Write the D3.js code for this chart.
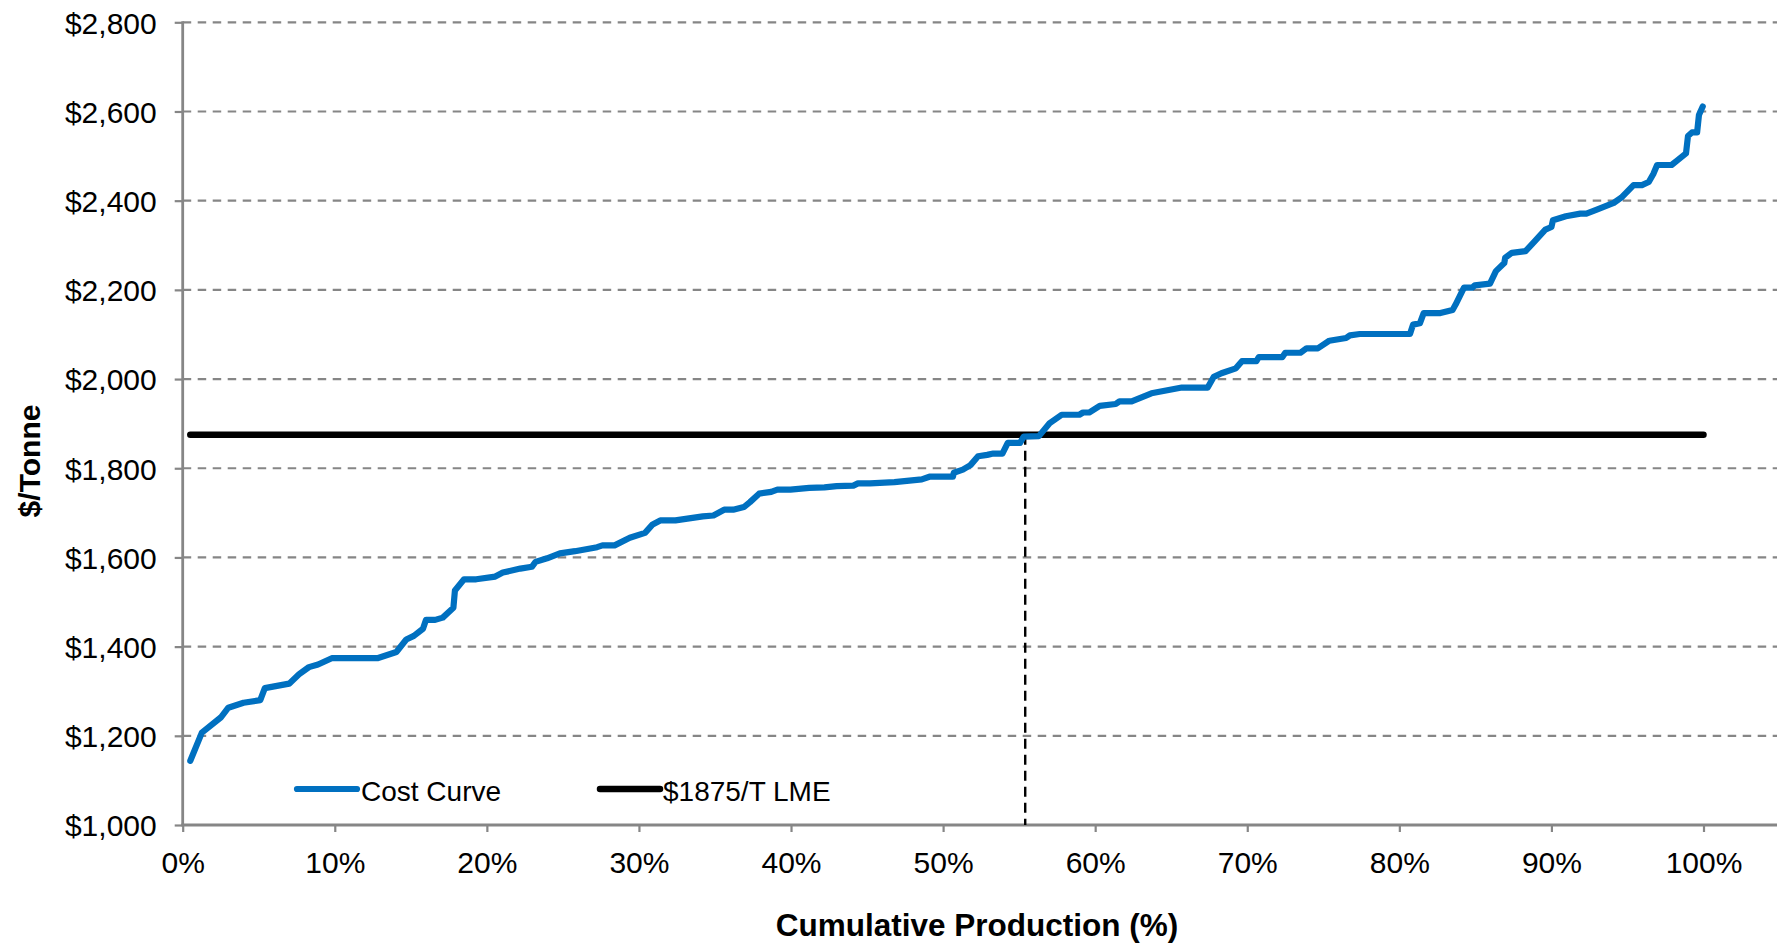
<!DOCTYPE html>
<html>
<head>
<meta charset="utf-8">
<script src="https://cdnjs.cloudflare.com/ajax/libs/d3/7.8.5/d3.min.js"></script>
<style>
  html, body { margin: 0; padding: 0; background: #ffffff; }
  svg { display: block; font-family: "Liberation Sans", Arial, sans-serif; }
</style>
</head>
<body>
<svg id="chart" width="1777" height="943"></svg>
<script>
// Cumulative share of production (%) at each vertex of the cost curve
const cumulativePct = [
  0.5, 1.26, 2.5, 3.0, 4.0, 5.1, 5.4, 7.0, 7.65, 8.3, 8.9, 9.8, 12.8, 14.05, 14.7, 15.2, 15.8, 16.0, 16.6, 17.1,
  17.8, 17.9, 18.5, 19.3, 20.55, 21.05, 22.2, 22.96, 23.2, 23.96, 24.8, 25.8, 27.25, 27.6, 28.4, 29.4, 30.4, 30.9,
  31.4, 32.4, 34.2, 34.9, 35.6, 36.2, 36.9, 37.3, 37.9, 38.7, 39.1, 39.96, 41.2, 42.2, 43.0, 44.1, 44.4, 45.2,
  46.8, 48.6, 49.1, 50.65, 50.7, 51.3, 51.8, 52.3, 52.9, 53.3, 53.9, 54.25, 55.06, 55.3, 56.3, 57.0, 57.8, 58.96,
  59.2, 59.6, 60.3, 61.35, 61.6, 62.4, 63.7, 65.7, 67.4, 67.8, 68.3, 69.25, 69.65, 70.6, 70.75, 72.3, 72.5, 73.5,
  73.9, 74.65, 75.4, 76.5, 76.75, 77.4, 80.7, 80.9, 81.35, 81.6, 82.7, 83.5, 83.7, 84.25, 84.8, 84.96, 85.96,
  86.35, 86.9, 86.96, 87.4, 88.3, 88.85, 89.6, 90.0, 90.1, 90.95, 91.9, 92.3, 92.9, 94.1, 94.6, 95.4, 95.95,
  96.4, 96.7, 96.95, 97.9, 98.3, 98.85, 98.98, 99.24, 99.58, 99.7, 99.95
];

// Cash cost ($/tonne) at each vertex
const costPerTonne = [
  1144, 1207, 1241, 1263, 1274, 1280, 1307, 1317, 1338, 1354, 1360, 1374, 1374, 1388, 1416, 1424, 1440, 1460, 1460, 1465,
  1487, 1526, 1551, 1551, 1557, 1566, 1575, 1579, 1590, 1598, 1609, 1614, 1623, 1627, 1627, 1644, 1655, 1674,
  1683, 1683, 1692, 1694, 1707, 1707, 1713, 1724, 1743, 1747, 1752, 1752, 1756, 1757, 1760, 1761, 1766, 1766,
  1769, 1775, 1781, 1781, 1790, 1797, 1807, 1827, 1830, 1833, 1833, 1857, 1857, 1871, 1872, 1901, 1920, 1920,
  1925, 1925, 1940, 1944, 1950, 1950, 1968, 1981, 1981, 2005, 2013, 2024, 2040, 2040, 2049, 2049, 2059, 2059,
  2069, 2069, 2086, 2092, 2098, 2101, 2101, 2122, 2125, 2148, 2148, 2155, 2167, 2205, 2205, 2210, 2214,
  2242, 2260, 2272, 2283, 2287, 2307, 2335, 2341, 2356, 2365, 2371, 2371, 2379, 2395, 2407, 2435, 2435,
  2442, 2460, 2480, 2480, 2491, 2506, 2545, 2553, 2553, 2592, 2611
];

// LME reference price and the span it is drawn over
const lmePrice = 1875;
const lmeSpanPct = [0.5, 100];
// Share of production at which the curve meets the LME price
const breakEvenPct = 55.4;

const xTicks = [0, 10, 20, 30, 40, 50, 60, 70, 80, 90, 100];
const yTicks = [1000, 1200, 1400, 1600, 1800, 2000, 2200, 2400, 2600, 2800];

const seriesNames = ["Cost Curve", "$1875/T LME"];
const axisTitles = { x: "Cumulative Production (%)", y: "$/Tonne" };

(function draw() {
  const curve = cumulativePct.map((p, i) => ({ pct: p, cost: costPerTonne[i] }));

  const plotLeft = 182.7, xEnd = 1703.5, plotTop = 22.3, plotBottom = 825;
  const plotRight = 1777;
  const gray = "#868686";
  const blue = "#0070C0";

  const svg = d3.select("#chart");

  const x = d3.scaleLinear().domain([0, 100]).range([plotLeft, xEnd]);
  const y = d3.scaleLinear().domain([1000, 2800]).range([plotBottom, plotTop]);

  // Horizontal dashed gridlines
  svg.append("g")
    .selectAll("line")
    .data(yTicks.filter(d => d !== 1000))
    .join("line")
    .attr("x1", plotLeft).attr("x2", plotRight)
    .attr("y1", d => y(d)).attr("y2", d => y(d))
    .attr("stroke", gray)
    .attr("stroke-width", 2.2)
    .attr("stroke-dasharray", "8.5,6.5");

  // Y axis
  const yAxis = svg.append("g")
    .attr("transform", `translate(${plotLeft},0)`)
    .call(d3.axisLeft(y).tickValues(yTicks).tickSize(8).tickSizeOuter(0)
      .tickFormat(d => "$" + d3.format(",")(d)));
  yAxis.select(".domain").remove();
  yAxis.selectAll(".tick line").attr("stroke", gray).attr("stroke-width", 2.2);
  yAxis.selectAll(".tick text")
    .attr("x", -26).attr("dy", "0.36em")
    .attr("fill", "#000").attr("font-size", 30)
    .attr("font-family", "Liberation Sans, Arial, sans-serif");
  svg.append("line")
    .attr("x1", plotLeft).attr("x2", plotLeft)
    .attr("y1", y(2800) - 1).attr("y2", y(1000))
    .attr("stroke", gray).attr("stroke-width", 2.8);

  // X axis
  const xAxis = svg.append("g")
    .attr("transform", `translate(0,${plotBottom})`)
    .call(d3.axisBottom(x).tickValues(xTicks).tickSize(7).tickSizeOuter(0)
      .tickFormat(d => d + "%"));
  xAxis.select(".domain").remove();
  xAxis.selectAll(".tick line").attr("stroke", gray).attr("stroke-width", 2.2);
  xAxis.selectAll(".tick text")
    .attr("y", 48).attr("dy", 0)
    .attr("fill", "#000").attr("font-size", 30)
    .attr("font-family", "Liberation Sans, Arial, sans-serif");
  svg.append("line")
    .attr("x1", plotLeft - 1.4).attr("x2", plotRight)
    .attr("y1", plotBottom).attr("y2", plotBottom)
    .attr("stroke", gray).attr("stroke-width", 2.8);

  // Dashed marker from the break-even point down to the axis
  svg.append("line")
    .attr("x1", x(breakEvenPct)).attr("x2", x(breakEvenPct))
    .attr("y1", y(lmePrice)).attr("y2", y(1000))
    .attr("stroke", "#000")
    .attr("stroke-width", 2.4)
    .attr("stroke-dasharray", "10,6");

  // LME price line
  svg.append("line")
    .attr("x1", x(lmeSpanPct[0])).attr("x2", x(lmeSpanPct[1]))
    .attr("y1", y(lmePrice)).attr("y2", y(lmePrice))
    .attr("stroke", "#000")
    .attr("stroke-width", 6.5)
    .attr("stroke-linecap", "round");

  // Cost curve
  const line = d3.line().x(d => x(d.pct)).y(d => y(d.cost));
  svg.append("path")
    .datum(curve)
    .attr("d", line)
    .attr("fill", "none")
    .attr("stroke", blue)
    .attr("stroke-width", 6.2)
    .attr("stroke-linejoin", "round")
    .attr("stroke-linecap", "round");

  // Legend
  const legend = [
    { name: seriesNames[0], color: blue, x0: 297, x1: 357, tx: 361, w: 6.2 },
    { name: seriesNames[1], color: "#000", x0: 600, x1: 660, tx: 663, w: 6.5 }
  ];
  const lg = svg.append("g");
  lg.selectAll("line")
    .data(legend)
    .join("line")
    .attr("x1", d => d.x0).attr("x2", d => d.x1)
    .attr("y1", 789).attr("y2", 789)
    .attr("stroke", d => d.color)
    .attr("stroke-width", d => d.w)
    .attr("stroke-linecap", "round");
  lg.selectAll("text")
    .data(legend)
    .join("text")
    .attr("x", d => d.tx).attr("y", 801)
    .attr("font-size", 28)
    .attr("fill", "#000")
    .text(d => d.name);

  // Axis titles
  svg.append("text")
    .attr("x", 977).attr("y", 936)
    .attr("text-anchor", "middle")
    .attr("font-size", 31.5)
    .attr("font-weight", "bold")
    .attr("fill", "#000")
    .text(axisTitles.x);

  svg.append("text")
    .attr("transform", "translate(40,461) rotate(-90)")
    .attr("text-anchor", "middle")
    .attr("font-size", 30)
    .attr("font-weight", "bold")
    .attr("fill", "#000")
    .text(axisTitles.y);
})();
</script>
</body>
</html>
